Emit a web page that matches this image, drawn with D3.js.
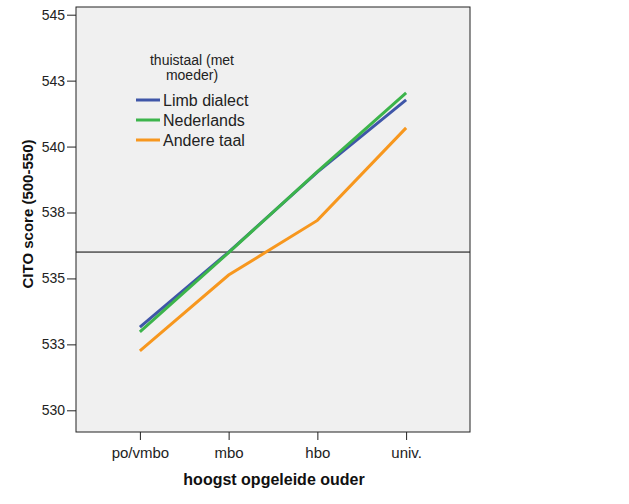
<!DOCTYPE html>
<html><head><meta charset="utf-8">
<script src="https://cdn.jsdelivr.net/npm/d3@7"></script>
<style>body{margin:0;background:#fff;} svg{display:block;font-family:"Liberation Sans",Arial,sans-serif;}</style>
</head><body>
<svg id="c" width="629" height="504"></svg>
<script>
const categories = ["po/vmbo", "mbo", "hbo", "univ."];
const seriesNames = ["Limb dialect", "Nederlands", "Andere taal"];
const limbDialect = [533.15, 536.0, 539.03, 541.77];
const nederlands = [532.97, 535.98, 539.05, 542.04];
const andereTaal = [532.25, 535.13, 537.2, 540.71];
const seriesColors = ["#3f56a8", "#3cb44b", "#f7971e"];
const yTicks = [530, 532.5, 535, 537.5, 540, 542.5, 545];
const yTickLabels = ["530", "533", "535", "538", "540", "543", "545"];
const referenceValue = 536.0;
const legendTitle = ["thuistaal (met", "moeder)"];
const xTitle = "hoogst opgeleide ouder";
const yTitle = "CITO score (500-550)";

const series = [limbDialect, nederlands, andereTaal];
const svg = d3.select("#c");
const L = 76, R = 470, T = 7, B = 432;

svg.append("rect").attr("x", L).attr("y", T).attr("width", R - L).attr("height", B - T)
  .attr("fill", "#f0f0f0");

const x = d3.scalePoint().domain(categories).range([L, R]).padding(0.72);
const y = d3.scaleLinear().domain([530, 545]).range([410.3, 14.7]);

// reference line
svg.append("line").attr("x1", L).attr("x2", R).attr("y1", y(referenceValue)).attr("y2", y(referenceValue))
  .attr("stroke", "#000").attr("stroke-width", 1);

const line = d3.line().x((d, i) => x(categories[i])).y(d => y(d));
series.forEach((s, i) => {
  svg.append("path").datum(s).attr("d", line).attr("fill", "none")
    .attr("stroke", seriesColors[i]).attr("stroke-width", 3).attr("stroke-linejoin", "miter");
});

// frame
svg.append("rect").attr("x", L).attr("y", T).attr("width", R - L).attr("height", B - T)
  .attr("fill", "none").attr("stroke", "#222").attr("stroke-width", 1);

// axes
const yAxis = d3.axisLeft(y).tickValues(yTicks)
  .tickFormat((d, i) => yTickLabels[i]).tickSize(9).tickPadding(2);
const gy = svg.append("g").attr("transform", `translate(${L},0)`).call(yAxis);
gy.attr("font-family", null).attr("font-size", null);
gy.select(".domain").remove();
gy.selectAll(".tick line").attr("stroke", "#222");
gy.selectAll(".tick text").attr("font-size", 14).attr("fill", "#222");

const xAxis = d3.axisBottom(x).tickSize(8).tickPadding(7);
const gx = svg.append("g").attr("transform", `translate(0,${B})`).call(xAxis);
gx.attr("font-family", null).attr("font-size", null);
gx.select(".domain").remove();
gx.selectAll(".tick line").attr("stroke", "#222");
gx.selectAll(".tick text").attr("font-size", 15).attr("fill", "#222");

svg.append("text").attr("x", 274).attr("y", 485).attr("text-anchor", "middle")
  .attr("font-size", 16).attr("font-weight", "bold").attr("fill", "#111").text(xTitle);
svg.append("text").attr("transform", "translate(33,214) rotate(-90)").attr("text-anchor", "middle")
  .attr("font-size", 15).attr("font-weight", "bold").attr("fill", "#111").text(yTitle);

// legend
legendTitle.forEach((t, i) => {
  svg.append("text").attr("x", 192).attr("y", 65 + i * 15).attr("text-anchor", "middle")
    .attr("font-size", 14).attr("fill", "#222").text(t);
});
seriesNames.forEach((n, i) => {
  const yy = 100 + i * 20;
  svg.append("line").attr("x1", 136).attr("x2", 160).attr("y1", yy).attr("y2", yy)
    .attr("stroke", seriesColors[i]).attr("stroke-width", 3);
  svg.append("text").attr("x", 163).attr("y", yy + 6).attr("font-size", 16).attr("fill", "#222").text(n);
});
</script>
</body></html>
